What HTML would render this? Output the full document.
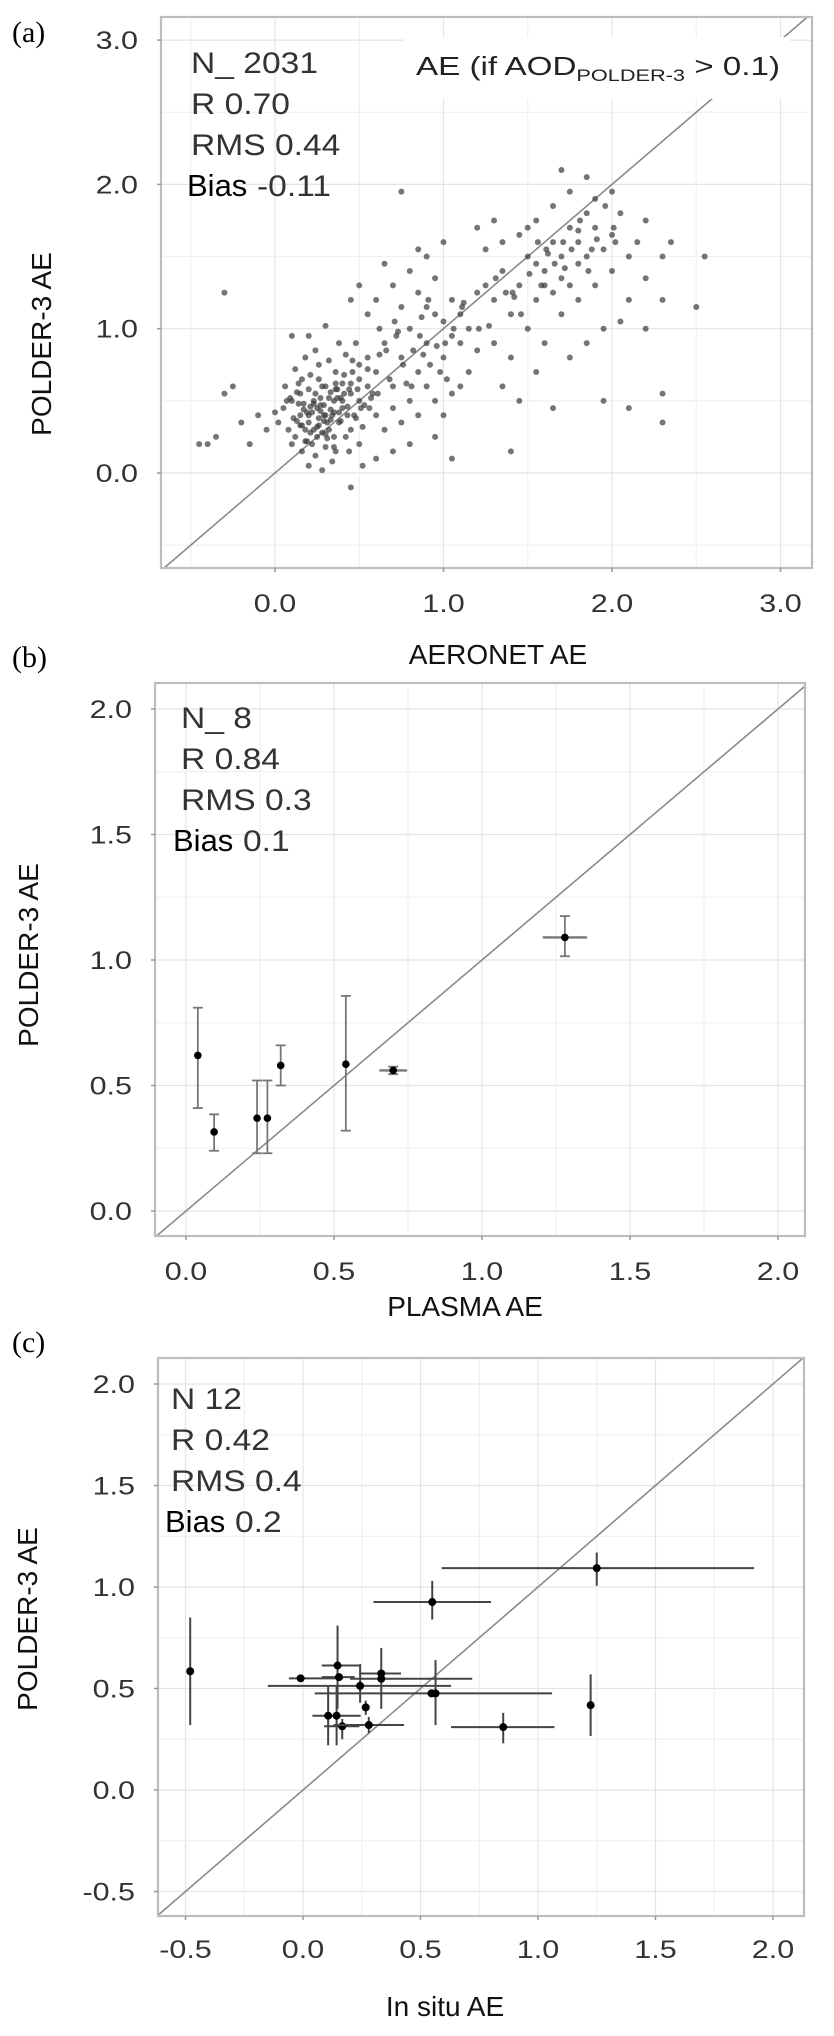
<!DOCTYPE html>
<html><head><meta charset="utf-8"><style>
html,body{margin:0;padding:0;background:#fff;}
svg{display:block;font-family:"Liberation Sans",Arial,sans-serif;}
</style></head><body>
<svg id="fig" width="834" height="2036" viewBox="0 0 834 2036"></svg>
<script>
// ---------- Panel (a) data: AERONET AE vs POLDER-3 AE (estimated subset) ----------
const aX = [0.05,0.1,0.15,0.2,0.25,0.3,0.35,0.4,0.45,0.5,0.08,0.12,0.18,0.22,0.28,0.32,0.38,0.42,0.48,0.52,0.06,0.14,0.2,0.26,0.3,0.36,0.4,0.46,0.5,0.55,0.1,0.16,0.24,0.3,0.36,0.44,0.2,0.28,0.34,0.5,0.02,0.0,-0.05,-0.1,-0.15,-0.2,-0.25,-0.3,-0.4,-0.35,0.12,0.18,0.24,0.32,0.38,0.42,0.48,0.2,0.3,0.1,0.22,0.26,0.33,0.17,0.27,0.37,0.43,0.13,0.23,0.31,0.29,0.34,0.19,0.39,0.25,0.45,0.15,0.35,0.41,0.21,
0.55,0.6,0.65,0.7,0.75,0.8,0.85,0.9,0.95,1.0,0.6,0.65,0.7,0.75,0.8,0.85,0.9,0.95,1.0,1.05,0.55,0.6,0.7,0.75,0.8,0.85,0.9,0.95,1.0,1.05,1.1,1.15,1.2,1.1,1.15,1.2,1.05,1.1,1.0,0.9,0.58,0.68,0.78,0.88,0.98,0.62,0.72,0.82,0.92,1.02,0.5,0.45,0.65,0.85,0.95,0.8,1.05,0.7,0.6,0.52,
1.25,1.3,1.35,1.4,1.45,1.5,1.55,1.6,1.65,1.7,1.75,1.8,1.85,1.9,1.95,2.0,2.05,2.1,1.3,1.4,1.5,1.6,1.7,1.8,1.9,2.0,2.1,2.2,1.25,1.35,1.45,1.55,1.65,1.75,1.85,1.7,1.35,1.45,1.55,1.65,1.75,1.85,1.95,2.05,2.15,2.2,2.3,2.35,2.3,2.2,1.6,1.7,1.8,1.55,1.65,1.75,1.85,1.9,2.0,1.5,
-0.3,0.75,2.5,2.55,2.3,2.3,2.1,1.95,1.4,0.45,-0.45,1.3,1.2,
0.27,0.21,0.33,0.16,0.4,0.24,0.3,0.36,0.2,0.28,0.14,0.44,0.32,0.26,0.38,0.18,0.5,0.62,0.73,0.87,1.12,1.27,1.42,1.58,1.72,1.88,2.02,1.37,1.62,1.8,
0.11,0.17,0.23,0.29,0.35,0.41,0.47,0.53,0.09,0.15,0.21,0.27,0.33,0.39,0.45,0.51,0.57,0.13,0.19,0.25,0.31,0.37,0.43,0.49,0.55,0.61,0.07,0.23,0.29,0.35,0.16,0.26,0.36,0.46,0.56,0.66,0.76,0.86,0.96,1.06,0.71,0.81,0.91,1.01,1.11,1.21,1.31,1.41,1.51,1.61,1.71,1.81,1.91,2.01,1.46,1.56,1.66,1.76,1.86,1.96];
const aY = [0.45,0.5,0.4,0.35,0.45,0.4,0.5,0.45,0.55,0.5,0.3,0.25,0.3,0.2,0.28,0.3,0.35,0.25,0.38,0.32,0.6,0.62,0.58,0.65,0.6,0.7,0.62,0.7,0.65,0.6,0.2,0.15,0.12,0.18,0.15,0.15,0.05,0.02,0.08,0.2,0.35,0.42,0.3,0.4,0.2,0.35,0.6,0.55,0.2,0.25,0.72,0.8,0.85,0.78,0.9,0.82,0.9,0.95,1.02,0.95,0.42,0.38,0.44,0.48,0.52,0.58,0.4,0.36,0.3,0.35,0.47,0.4,0.42,0.52,0.25,0.3,0.55,0.25,0.68,0.68,
0.8,0.7,0.9,0.6,0.8,1.0,0.7,0.9,1.1,0.8,0.4,0.3,0.45,0.35,0.5,0.4,0.6,0.5,0.4,0.55,1.1,1.2,1.3,1.15,1.4,1.25,1.5,1.35,1.6,1.2,0.9,1.0,0.85,1.1,0.7,1.25,0.95,0.6,1.05,1.15,0.55,0.65,0.62,0.82,0.7,1.0,0.95,0.85,0.75,0.65,1.3,1.2,1.45,1.55,0.25,0.2,0.1,0.15,0.1,0.05,
1.3,1.2,1.4,1.1,1.3,1.5,1.2,1.4,1.6,1.5,1.7,1.6,1.8,1.7,1.55,1.65,1.8,1.5,0.9,0.8,1.0,0.9,1.1,1.2,1.3,1.4,1.2,1.35,1.55,1.6,1.65,1.75,1.85,1.95,2.05,2.1,0.6,0.5,0.7,0.45,0.8,0.9,1.0,1.05,1.6,1.75,1.5,1.6,1.2,1.0,1.3,1.35,1.45,1.45,1.25,1.3,1.5,1.9,1.95,1.7,
1.25,1.95,1.15,1.5,0.35,0.55,0.45,0.5,0.15,-0.1,0.2,1.75,1.7,
0.43,0.46,0.37,0.33,0.5,0.55,0.27,0.62,0.4,0.6,0.48,0.58,0.52,0.33,0.42,0.22,0.75,0.82,0.98,1.08,1.18,1.02,1.22,1.3,1.42,1.55,1.6,1.25,1.52,1.68,
0.38,0.44,0.5,0.36,0.42,0.55,0.4,0.47,0.52,0.33,0.28,0.47,0.56,0.36,0.62,0.45,0.52,0.56,0.22,0.32,0.24,0.52,0.46,0.58,0.72,0.55,0.5,0.48,0.4,0.18,0.65,0.75,0.58,0.78,0.45,0.85,0.75,0.95,0.88,1.0,1.05,0.6,1.2,0.9,1.15,1.0,1.35,1.25,1.38,1.55,1.6,1.75,1.62,1.7,1.1,1.6,1.45,1.55,1.4,1.85];
const aXTicks = [0,1,2,3];
const aXLabels = ["0.0","1.0","2.0","3.0"];
const aYTicks = [0,1,2,3];
const aYLabels = ["0.0","1.0","2.0","3.0"];

// ---------- Panel (b) data: PLASMA AE ----------
const bX    = [0.04,0.095,0.24,0.275,0.32,0.54,0.70,1.28];
const bY    = [0.62,0.315,0.37,0.37,0.58,0.585,0.56,1.09];
const bYLo  = [0.41,0.24,0.23,0.23,0.50,0.32,0.545,1.015];
const bYHi  = [0.81,0.385,0.52,0.52,0.66,0.857,0.575,1.175];
const bXLo  = [0.04,0.095,0.24,0.275,0.32,0.54,0.653,1.205];
const bXHi  = [0.04,0.095,0.24,0.275,0.32,0.54,0.747,1.355];
const bTicks = [0,0.5,1,1.5,2];
const bLabels = ["0.0","0.5","1.0","1.5","2.0"];

// ---------- Panel (c) data: In situ AE ----------
const cX   = [-0.48,-0.01,0.147,0.153,0.243,0.267,0.333,0.333,0.107,0.143,0.167,0.28,0.55,0.547,0.564,0.852,1.224,1.25];
const cY   = [0.585,0.55,0.613,0.556,0.513,0.407,0.574,0.548,0.366,0.366,0.314,0.32,0.926,0.476,0.476,0.31,0.418,1.093];
const cXLo = [-0.48,-0.06,0.08,0.08,-0.15,0.267,0.245,0.2,0.04,0.143,0.09,0.13,0.30,0.05,0.564,0.63,1.224,0.59];
const cXHi = [-0.48,0.17,0.24,0.22,0.63,0.267,0.417,0.72,0.245,0.143,0.24,0.43,0.80,1.06,0.564,1.07,1.224,1.92];
const cYLo = [0.32,0.55,0.40,0.556,0.43,0.37,0.40,0.548,0.22,0.22,0.25,0.28,0.84,0.476,0.32,0.23,0.266,1.006];
const cYHi = [0.85,0.55,0.81,0.556,0.62,0.44,0.70,0.548,0.51,0.51,0.35,0.36,1.03,0.476,0.64,0.38,0.57,1.17];
const cTicks = [-0.5,0,0.5,1,1.5,2];
const cLabels = ["-0.5","0.0","0.5","1.0","1.5","2.0"];

const NS = "http://www.w3.org/2000/svg";
const svg = document.getElementById('fig');
function mk(tag, attrs, parent){
  const e = document.createElementNS(NS, tag);
  for (const k in attrs) e.setAttribute(k, attrs[k]);
  (parent||svg).appendChild(e);
  return e;
}
function txt(x,y,s,size,anchor,sx,fill,weight,parent){
  const t = mk('text',{x:0,y:0,'font-size':size,'text-anchor':anchor||'start',fill:fill||'#222','font-weight':weight||'normal',transform:`translate(${x},${y}) scale(${sx||1},1)`},parent);
  t.textContent = s;
  return t;
}
function panel(P){
  const g = mk('g',{});
  
  
  const sx = v => P.ox + P.kx*v, sy = v => P.oy - P.ky*v;
  for (let v = P.gmin; v <= P.gmax + 1e-9; v += P.step/2){
    const major = Math.abs(v/P.step - Math.round(v/P.step)) < 1e-6;
    const X = sx(v), Y = sy(v);
    if (X > P.L && X < P.R){ const l = mk('line',{x1:X,x2:X,y1:P.T,y2:P.B,stroke:major?'#e4e4e4':'#f0f0f0','stroke-width':1.2},g);
        }
    if (Y > P.T && Y < P.B){ const l = mk('line',{x1:P.L,x2:P.R,y1:Y,y2:Y,stroke:major?'#e4e4e4':'#f0f0f0','stroke-width':1.2},g);
        }
  }
  const vmin = Math.max((P.L-P.ox)/P.kx, (P.oy-P.B)/P.ky), vmax = Math.min((P.R-P.ox)/P.kx, (P.oy-P.T)/P.ky);
  const d = mk('line',{x1:sx(vmin),y1:sy(vmin),x2:sx(vmax),y2:sy(vmax),stroke:'#8a8a8a','stroke-width':1.6},g);
   
  P.draw(g, sx, sy);
  const f = mk('rect',{x:P.L,y:P.T,width:P.R-P.L,height:P.B-P.T,fill:'none',stroke:'#bdbdbd','stroke-width':2.2},g);
   
  P.xt.forEach((v,i)=>{
    mk('line',{x1:sx(v),x2:sx(v),y1:P.B,y2:P.B+4,stroke:'#999','stroke-width':1.5},g);
    const t = txt(sx(v), P.xly, P.xl[i], 25, 'middle', 1.22, '#333', 'normal', g);
     
  });
  P.yt.forEach((v,i)=>{
    mk('line',{x1:P.L-4,x2:P.L,y1:sy(v),y2:sy(v),stroke:'#999','stroke-width':1.5},g);
    const t = txt(P.L-23, sy(v)+9, P.yl[i], 25, 'end', 1.22, '#333', 'normal', g);
     
  });
  const xt = txt(P.xtx, P.xty, P.xtitle, 28, 'middle', 1, '#111', 'normal', g);
   
  const yt = mk('text',{x:0,y:0,'font-size':28,'text-anchor':'middle',fill:'#111',transform:`translate(${P.ytx},${P.yty}) rotate(-90)`},g);
  yt.textContent = 'POLDER-3 AE';
   
  const pl = mk('text',{x:P.plx,y:P.ply,'font-size':30,'font-family':'"Liberation Serif",serif',fill:'#000'},g);
  pl.textContent = P.plabel;
   
  const st = mk('g',{},g);
   
  P.stats.forEach((s,i)=>{
    const y = P.sy0 + i*P.sdy;
    if (i === 3){
      txt(P.bx, y, 'Bias', 31, 'start', 1.0, '#000', 'normal', st);
      txt(P.bx+70, y, s, 30, 'start', 1.12, '#333', 'normal', st);
    } else txt(P.sx0, y, s, 30, 'start', 1.12, '#333', 'normal', st);
  });
}

panel({name:'panel-a-aeronet', L:161,R:812,T:17,B:568, ox:275,kx:168.5, oy:473,ky:144.3,
  gmin:-0.5,gmax:3,step:1, xt:aXTicks,xl:aXLabels, yt:aYTicks,yl:aYLabels, xly:612,
  xtitle:'AERONET AE', xtx:498, xty:664, ytx:51, yty:344, plabel:'(a)', plx:12, ply:42,
  stats:['N_  2031','R 0.70','RMS 0.44','-0.11'], sx0:191, bx:187, sy0:73, sdy:41,
  draw:(g,sx,sy)=>{
    const pts = mk('g',{},g);
     
    aX.forEach((x,i)=>{
      mk('circle',{cx:sx(x),cy:sy(aY[i]),r:3,fill:'#3a3a3a','fill-opacity':0.7},pts);
    });
    mk('rect',{x:404,y:37,width:386,height:62,fill:'#fff'},g);
    const tt = mk('text',{x:416,y:75,'font-size':26,fill:'#222'},g);
     
    tt.innerHTML = 'AE (if AOD<tspan font-size="17" dy="6">POLDER-3</tspan><tspan dy="-6"> &gt; 0.1)</tspan>';
    tt.setAttribute('textLength','364'); tt.setAttribute('lengthAdjust','spacingAndGlyphs');
  }});

panel({name:'panel-b-plasma', L:155,R:805,T:683,B:1236, ox:186,kx:296, oy:1211,ky:251,
  gmin:-0.25,gmax:2.1,step:0.5, xt:bTicks,xl:bLabels, yt:bTicks,yl:bLabels, xly:1280,
  xtitle:'PLASMA AE', xtx:465, xty:1316, ytx:38, yty:955, plabel:'(b)', plx:12, ply:667,
  stats:['N_  8','R 0.84','RMS 0.3','0.1'], sx0:181, bx:173, sy0:728, sdy:41,
  draw:(g,sx,sy)=>{
    bX.forEach((x,i)=>{
      const eb = mk('g',{stroke:'#777','stroke-width':1.8},g);
       
      mk('line',{x1:sx(x),x2:sx(x),y1:sy(bYLo[i]),y2:sy(bYHi[i])},eb);
      mk('line',{x1:sx(x)-5,x2:sx(x)+5,y1:sy(bYLo[i]),y2:sy(bYLo[i])},eb);
      mk('line',{x1:sx(x)-5,x2:sx(x)+5,y1:sy(bYHi[i]),y2:sy(bYHi[i])},eb);
      if (bXHi[i] > bXLo[i]) mk('line',{x1:sx(bXLo[i]),x2:sx(bXHi[i]),y1:sy(bY[i]),y2:sy(bY[i]),'stroke-width':2.4},eb);
      const c = mk('circle',{cx:sx(x),cy:sy(bY[i]),r:3.8,fill:'#000'},g);
       
    });
  }});

panel({name:'panel-c-insitu', L:158,R:804,T:1358,B:1916, ox:303,kx:235, oy:1790,ky:203,
  gmin:-0.75,gmax:2.1,step:0.5, xt:cTicks,xl:cLabels, yt:cTicks,yl:cLabels, xly:1958,
  xtitle:'In situ AE', xtx:445, xty:2016, ytx:37, yty:1619, plabel:'(c)', plx:12, ply:1352,
  stats:['N    12','R 0.42','RMS 0.4','0.2'], sx0:171, bx:165, sy0:1409, sdy:41,
  draw:(g,sx,sy)=>{
    cX.forEach((x,i)=>{
      const eb = mk('g',{stroke:'#444','stroke-width':2},g);
       
      if (cYHi[i] > cYLo[i]) mk('line',{x1:sx(x),x2:sx(x),y1:sy(cYLo[i]),y2:sy(cYHi[i])},eb);
      if (cXHi[i] > cXLo[i]) mk('line',{x1:sx(cXLo[i]),x2:sx(cXHi[i]),y1:sy(cY[i]),y2:sy(cY[i])},eb);
      const c = mk('circle',{cx:sx(x),cy:sy(cY[i]),r:4,fill:'#000'},g);
       
    });
  }});
</script>
</body></html>
